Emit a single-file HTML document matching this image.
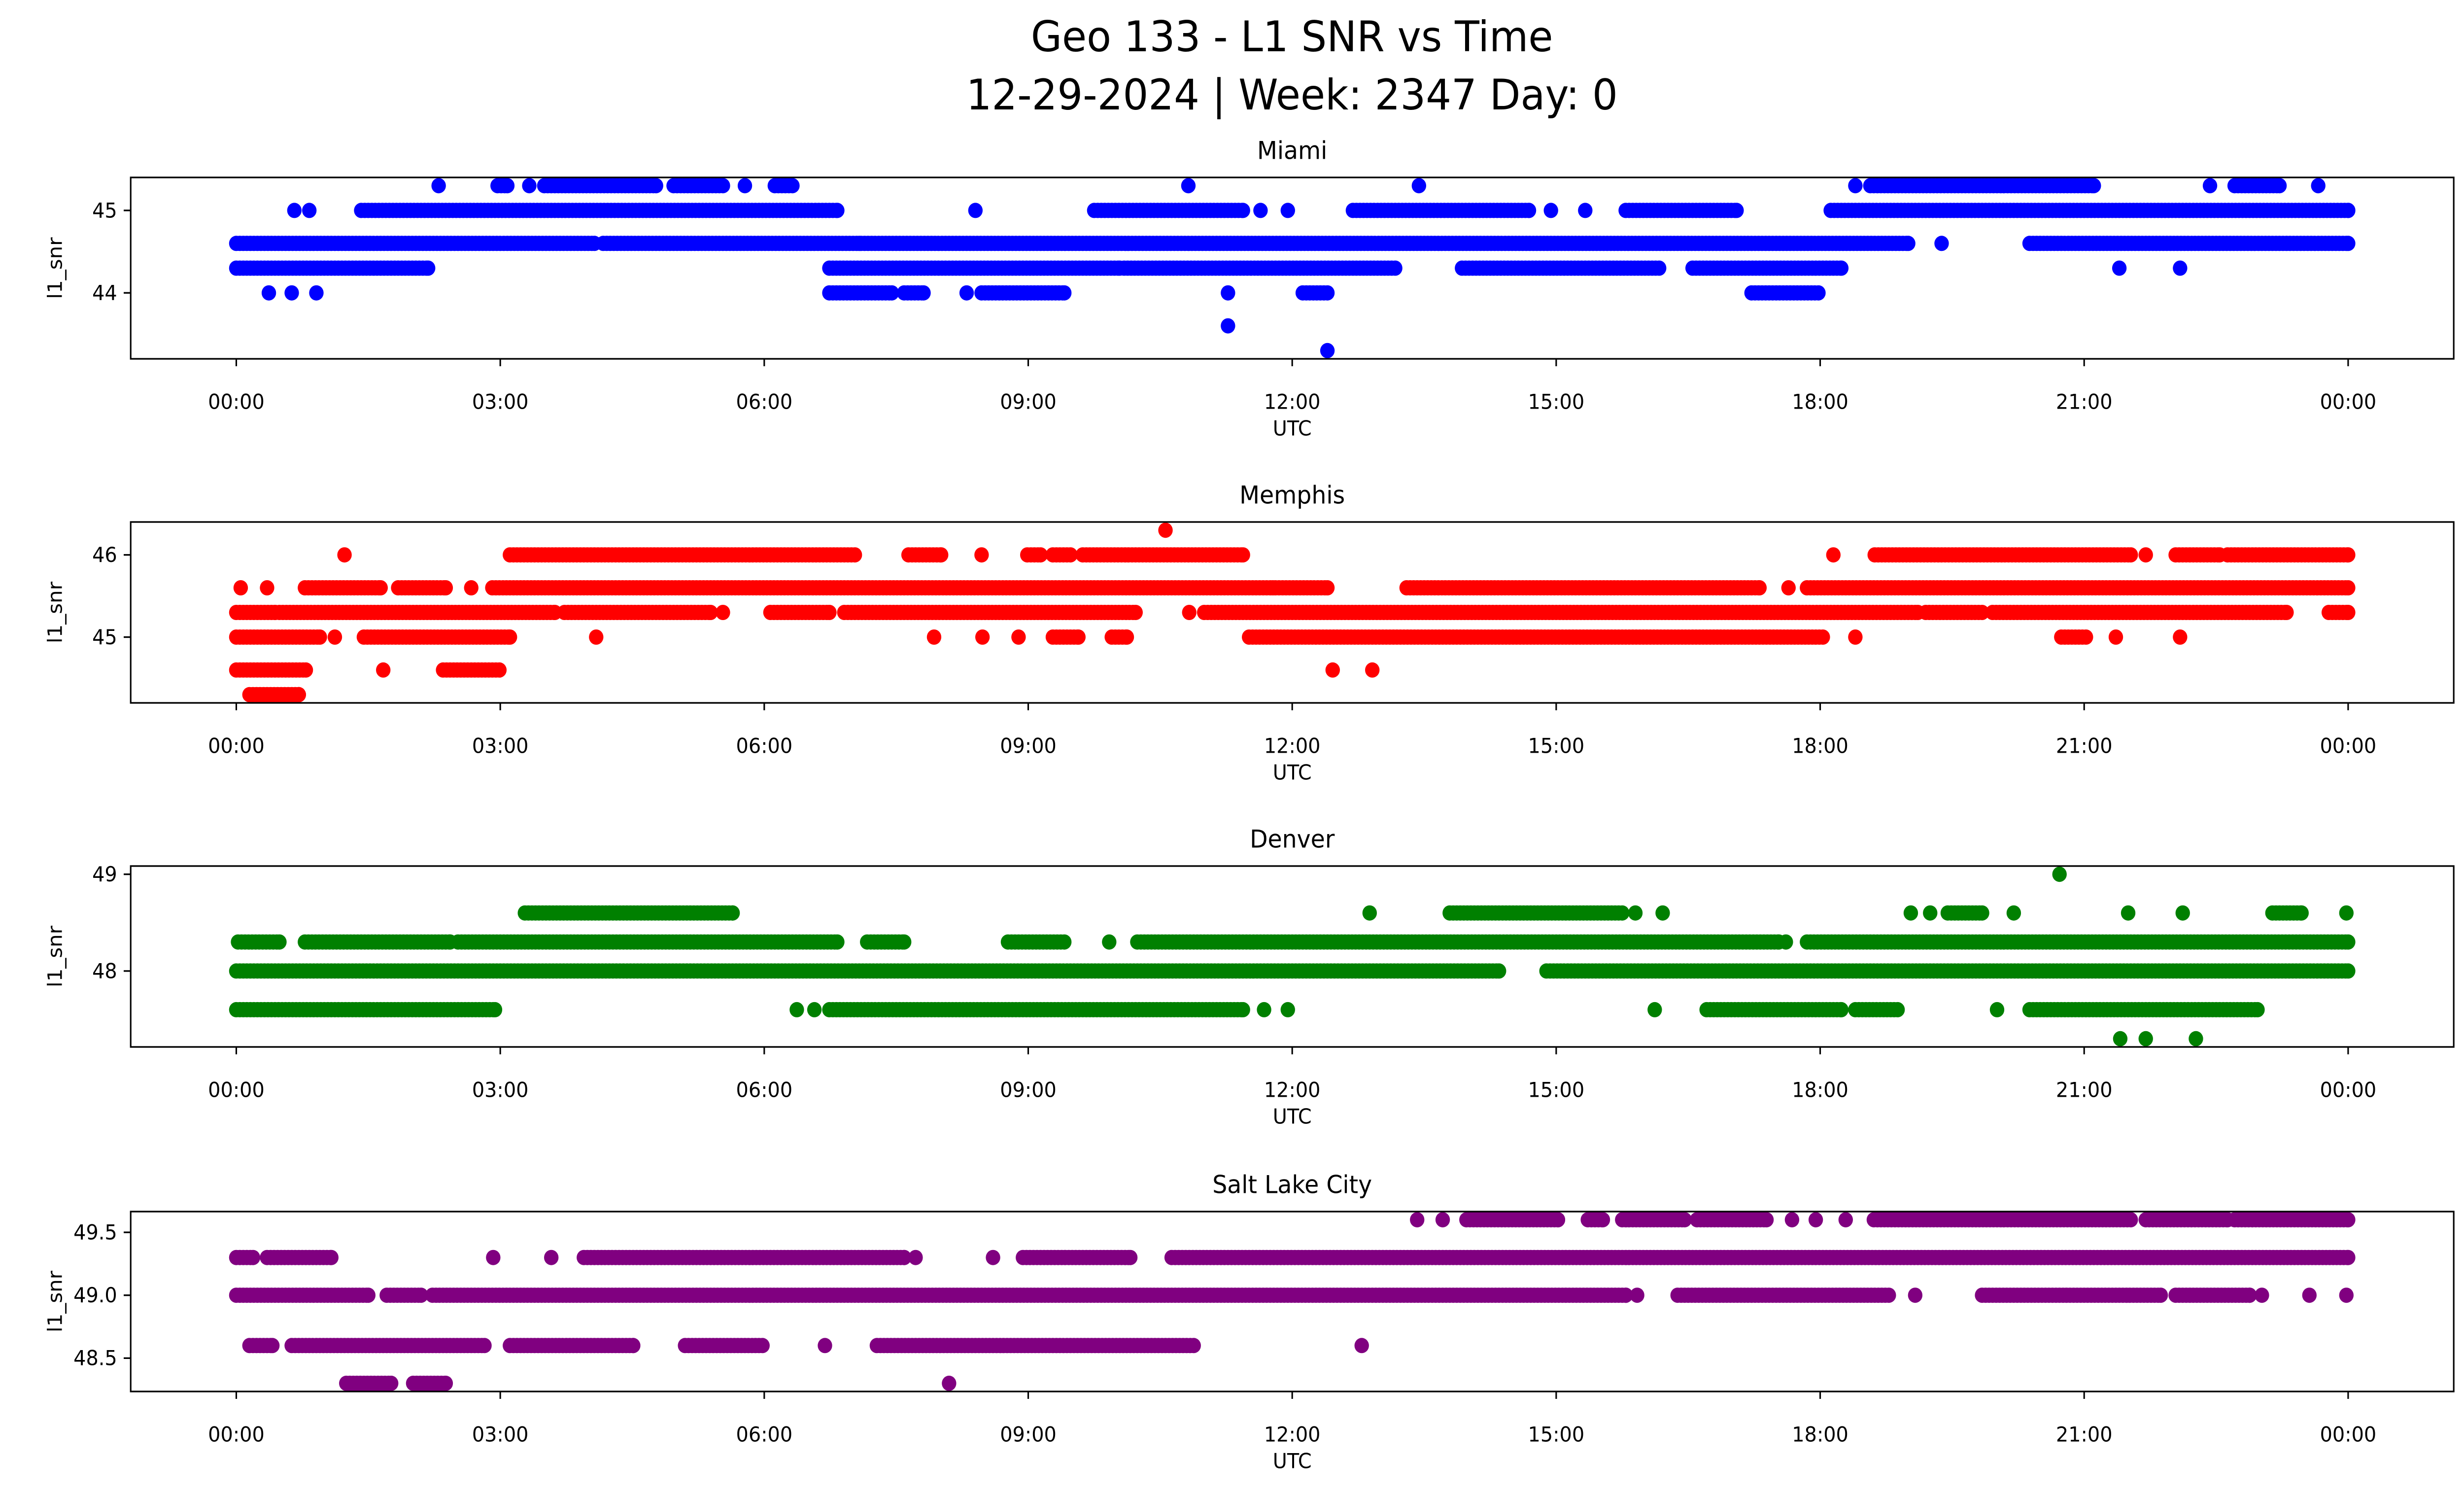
<!DOCTYPE html>
<html><head><meta charset="utf-8"><title>Geo 133 - L1 SNR vs Time</title>
<style>html,body{margin:0;padding:0;background:#fff;width:100%;height:100%;overflow:hidden}svg{display:block;overflow:hidden;position:fixed;left:0;top:0;width:100vw;height:100vh}text{font-family:"DejaVu Sans","Liberation Sans",sans-serif;fill:#000}</style>
</head><body>
<svg id="fig" viewBox="0 0 5279 3033" preserveAspectRatio="none" xmlns="http://www.w3.org/2000/svg">
<rect width="5279" height="3033" fill="#fff"/>
<text x="2768" y="74" font-size="86" text-anchor="middle" dominant-baseline="central">Geo 133 - L1 SNR vs Time</text>
<text x="2768" y="192" font-size="86" text-anchor="middle" dominant-baseline="central">12-29-2024 | Week: 2347 Day: 0</text>
</svg>
<script>
// x-axis ticks (hours) and labels
const xTicks = [0,3,6,9,12,15,18,21,24];
const xTickLabels = ["00:00","03:00","06:00","09:00","12:00","15:00","18:00","21:00","00:00"];

// Miami
const miamiLevels = [45.3,45.0,44.6,44.3,44.0,43.6,43.3];
const miamiSegments = [
 [[2.30,2.30],[2.97,3.08],[3.33,3.33],[3.50,4.77],[4.97,5.53],[5.78,5.78],[6.12,6.32],[10.82,10.82],[13.44,13.44],[18.40,18.40],[18.57,21.11],[22.43,22.43],[22.71,23.22],[23.66,23.66]],
 [[0.66,0.66],[0.83,0.83],[1.42,6.83],[8.40,8.40],[9.75,11.44],[11.64,11.64],[11.95,11.95],[12.69,14.69],[14.94,14.94],[15.33,15.33],[15.79,17.05],[18.12,24.0]],
 [[0.0,4.07],[4.17,7.08],[7.10,19.0],[19.38,19.38],[20.38,24.0]],
 [[0.0,2.18],[6.74,10.04],[10.09,13.17],[13.93,16.17],[16.55,18.24],[21.40,21.40],[22.09,22.09]],
 [[0.37,0.37],[0.63,0.63],[0.91,0.91],[6.74,7.45],[7.59,7.81],[8.30,8.30],[8.47,9.41],[11.27,11.27],[12.12,12.40],[17.22,17.98]],
 [[11.27,11.27]],
 [[12.40,12.40]]
];
const miamiYTicks = [44,45];
const miamiYTickLabels = ["44","45"];

// Memphis
const memphisLevels = [46.3,46.0,45.6,45.3,45.0,44.6,44.3];
const memphisSegments = [
 [[10.56,10.56]],
 [[1.23,1.23],[3.11,7.03],[7.64,8.01],[8.47,8.47],[8.99,9.14],[9.28,9.48],[9.62,11.44],[18.15,18.15],[18.62,21.53],[21.70,21.70],[22.04,22.54],[22.63,24.0]],
 [[0.05,0.05],[0.35,0.35],[0.78,1.64],[1.84,2.38],[2.67,2.67],[2.91,11.78],[11.81,12.40],[13.30,17.31],[17.64,17.64],[17.85,24.0]],
 [[0.0,0.44],[0.49,3.62],[3.73,5.39],[5.53,5.53],[6.07,6.74],[6.91,10.22],[10.83,10.83],[11.0,19.11],[19.20,19.84],[19.96,23.30],[23.78,24.0]],
 [[0.0,0.95],[1.12,1.12],[1.45,3.11],[4.09,4.09],[7.93,7.93],[8.48,8.48],[8.89,8.89],[9.28,9.57],[9.95,10.12],[11.51,18.03],[18.40,18.40],[20.74,21.02],[21.36,21.36],[22.09,22.09]],
 [[0.0,0.79],[1.67,1.67],[2.35,2.99],[12.46,12.46],[12.91,12.91]],
 [[0.15,0.71]]
];
const memphisYTicks = [45,46];
const memphisYTickLabels = ["45","46"];

// Denver
const denverLevels = [49.0,48.6,48.3,48.0,47.6,47.3];
const denverSegments = [
 [[20.72,20.72]],
 [[3.28,5.64],[12.88,12.88],[13.79,15.75],[15.90,15.90],[16.21,16.21],[19.03,19.03],[19.25,19.25],[19.45,19.84],[20.20,20.20],[21.50,21.50],[22.12,22.12],[23.14,23.47],[23.98,23.98]],
 [[0.02,0.49],[0.78,2.43],[2.52,6.83],[7.17,7.59],[8.77,9.41],[9.92,9.92],[10.24,17.53],[17.61,17.61],[17.85,24.0]],
 [[0.0,14.35],[14.89,24.0]],
 [[0.0,2.94],[6.37,6.37],[6.57,6.57],[6.74,11.44],[11.68,11.68],[11.95,11.95],[16.12,16.12],[16.71,18.24],[18.40,18.88],[20.01,20.01],[20.38,22.97]],
 [[21.41,21.41],[21.70,21.70],[22.27,22.27]]
];
const denverYTicks = [48,49];
const denverYTickLabels = ["48","49"];

// Salt Lake City
const slcLevels = [49.6,49.3,49.0,48.6,48.3];
const slcSegments = [
 [[13.42,13.42],[13.71,13.71],[13.98,15.02],[15.36,15.53],[15.75,16.46],[16.60,17.39],[17.68,17.68],[17.95,17.95],[18.29,18.29],[18.61,21.53],[21.70,22.63],[22.71,24.0]],
 [[0.0,0.19],[0.35,1.08],[2.92,2.92],[3.58,3.58],[3.95,7.59],[7.72,7.72],[8.60,8.60],[8.94,10.16],[10.63,24.0]],
 [[0.0,1.50],[1.71,2.10],[2.23,15.79],[15.92,15.92],[16.38,18.78],[19.08,19.08],[19.84,21.87],[22.04,22.88],[23.02,23.02],[23.56,23.56],[23.98,23.98]],
 [[0.15,0.41],[0.63,2.82],[3.11,4.51],[5.10,5.98],[6.69,6.69],[7.28,10.88],[12.79,12.79]],
 [[1.25,1.76],[2.01,2.38],[8.10,8.10]]
];
const slcYTicks = [48.5,49.0,49.5];
const slcYTickLabels = ["48.5","49.0","49.5"];

const NS = "http://www.w3.org/2000/svg";
const svg = document.getElementById("fig");
const X0 = 280, X1 = 5257;
function mk(tag, attrs, parent){
  const e = document.createElementNS(NS, tag);
  for (const k in attrs) e.setAttribute(k, attrs[k]);
  (parent||svg).appendChild(e);
  return e;
}
function xScale(h){ return X0 + (h + 1.2) / 26.4 * (X1 - X0); }

function panel(slug, title, color, levels, segments, yTicks, yTickLabels, top, bottom){
  const g = mk("g", {});
  
  
  let mn = Infinity, mx = -Infinity;
  levels.forEach(v => { mn = Math.min(mn, v); mx = Math.max(mx, v); });
  const pad = (mx - mn) * 0.05;
  const lo = mn - pad, hi = mx + pad;
  const yScale = v => bottom - (v - lo) / (hi - lo) * (bottom - top);
  const pts = mk("g", {fill: color}, g);
  
  
  segments.forEach((segs, i) => {
    const y = yScale(levels[i]);
    segs.forEach(s => {
      const step = 0.04;
      for (let h = s[0]; h <= s[1] + 1e-9; h += step) {
        mk("circle", {cx: xScale(h).toFixed(1), cy: y.toFixed(1), r: 15.5}, pts);
      }
      if ((s[1] - s[0]) % step > 0.005) mk("circle", {cx: xScale(s[1]).toFixed(1), cy: y.toFixed(1), r: 15.5}, pts);
    });
  });
  const fr = mk("rect", {x: X0, y: top, width: X1 - X0, height: bottom - top, fill: "none", stroke: "#000", "stroke-width": 3.3}, g);
  
  
  xTicks.forEach((t, i) => {
    const x = xScale(t);
    mk("line", {x1: x, x2: x, y1: bottom, y2: bottom + 15, stroke: "#000", "stroke-width": 3.3}, g);
    const lb = mk("text", {x: x, y: bottom + 87, "font-size": 42, "text-anchor": "middle", "dominant-baseline": "central"}, g);
    
    
    lb.textContent = xTickLabels[i];
  });
  yTicks.forEach((t, i) => {
    const y = yScale(t);
    mk("line", {x1: X0 - 15, x2: X0, y1: y, y2: y, stroke: "#000", "stroke-width": 3.3}, g);
    const lb = mk("text", {x: X0 - 29, y: y, "font-size": 42, "text-anchor": "end", "dominant-baseline": "central"}, g);
    
    
    lb.textContent = yTickLabels[i];
  });
  const xl = mk("text", {x: (X0 + X1) / 2, y: bottom + 141, "font-size": 42, "text-anchor": "middle", "dominant-baseline": "central"}, g);
  
  
  xl.textContent = "UTC";
  const yc = (top + bottom) / 2;
  const yl = mk("text", {x: 118, y: yc, "font-size": 42, "text-anchor": "middle", "dominant-baseline": "central", transform: "rotate(-90 118 " + yc + ")"}, g);
  
  
  yl.textContent = "l1_snr";
  const tt = mk("text", {x: (X0 + X1) / 2, y: top - 54, "font-size": 50, "text-anchor": "middle", "dominant-baseline": "central"}, g);
  
  
  tt.textContent = title;
}

panel("miami", "Miami", "#0000ff", miamiLevels, miamiSegments, miamiYTicks, miamiYTickLabels, 360, 728);
panel("memphis", "Memphis", "#ff0000", memphisLevels, memphisSegments, memphisYTicks, memphisYTickLabels, 1059, 1426);
panel("denver", "Denver", "#008000", denverLevels, denverSegments, denverYTicks, denverYTickLabels, 1757, 2124);
panel("salt-lake-city", "Salt Lake City", "#800080", slcLevels, slcSegments, slcYTicks, slcYTickLabels, 2458, 2823);
</script>
</body></html>
